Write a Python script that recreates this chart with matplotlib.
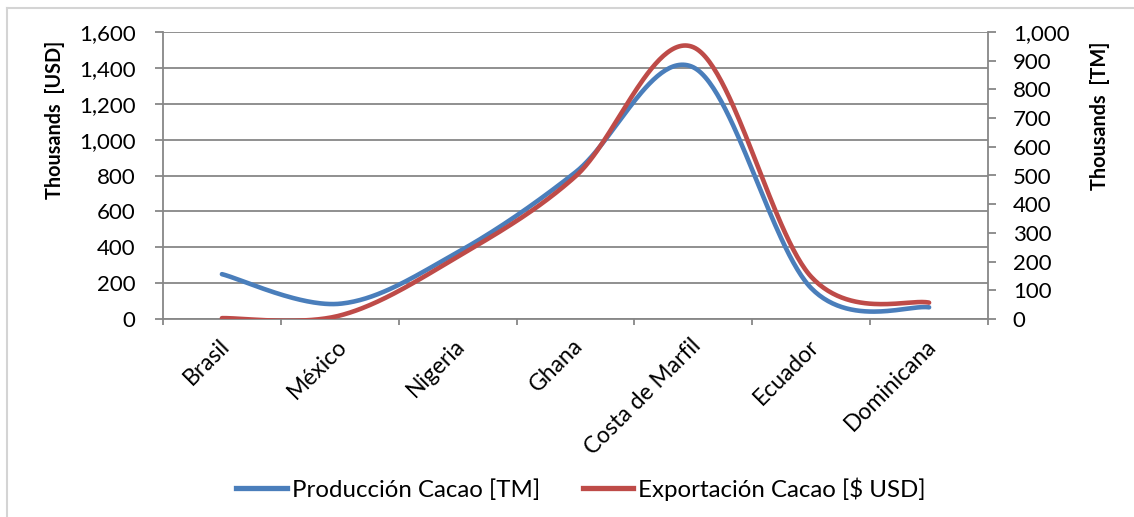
import numpy as np
import matplotlib
matplotlib.use("Agg")
import matplotlib.pyplot as plt
import matplotlib.transforms as mtransforms
from matplotlib.lines import Line2D
from matplotlib.ticker import FuncFormatter

plt.rcParams['font.family'] = ['Lato', 'DejaVu Sans']

# Datos por país (miles)
paises = ["Brasil", "México", "Nigeria", "Ghana", "Costa de Marfil", "Ecuador", "Dominicana"]
produccion_tm = [250, 85, 372, 818, 1403, 172, 65]     # eje izquierdo
exportacion_usd = [3, 12, 217, 497, 947, 147, 57]      # eje derecho

AZUL = "#4A7EBB"
ROJO = "#BE4B48"
GRIS = "#878787"


def suavizar(valores, n=60):
    """Curva Bezier cúbica que pasa por cada punto (estilo línea suavizada)."""
    y = np.asarray(valores, float)
    x = np.arange(len(y), dtype=float)
    P = np.column_stack([x, y])
    t = np.linspace(0, 1, n)[:, None]
    trozos = []
    for i in range(len(P) - 1):
        a = P[max(i - 1, 0)]
        b = P[i]
        c = P[i + 1]
        d = P[min(i + 2, len(P) - 1)]
        c1 = b + (c - a) / 6.0
        c2 = c - (d - b) / 6.0
        seg = (1 - t) ** 3 * b + 3 * (1 - t) ** 2 * t * c1 + 3 * (1 - t) * t ** 2 * c2 + t ** 3 * c
        trozos.append(seg if i == 0 else seg[1:])
    curva = np.vstack(trozos)
    return curva[:, 0], curva[:, 1]


W, H = 1134, 517
fig = plt.figure(figsize=(W / 100, H / 100), dpi=100)
fig.patch.set_facecolor("white")

# Borde del área del gráfico
fig.add_artist(Line2D([6.5 / W, 6.5 / W], [0, 1 - 7.5 / H], transform=fig.transFigure,
                      color="#d4d4d4", lw=1.5))
fig.add_artist(Line2D([6.5 / W, 1], [1 - 7.5 / H, 1 - 7.5 / H], transform=fig.transFigure,
                      color="#d4d4d4", lw=1.5))

x0, x1, ytop, ybot = 163, 988, 32, 319
ax = fig.add_axes([x0 / W, 1 - ybot / H, (x1 - x0) / W, (ybot - ytop) / H])
ax2 = ax.twinx()

xb, yb = suavizar(produccion_tm)
ax.plot(xb, yb, color=AZUL, lw=3.3, solid_capstyle="round", label="Producción Cacao [TM]")
xr, yr = suavizar(exportacion_usd)
ax2.plot(xr, yr, color=ROJO, lw=3.3, solid_capstyle="round", label="Exportación Cacao [$ USD]")

ax.set_xlim(-0.5, len(paises) - 0.5)
ax.set_ylim(0, 1600)
ax2.set_ylim(0, 1000)
ax.set_yticks(np.arange(0, 1601, 200))
ax2.set_yticks(np.arange(0, 1001, 100))
miles = FuncFormatter(lambda v, p: f"{int(v):,}")
ax.yaxis.set_major_formatter(miles)
ax2.yaxis.set_major_formatter(miles)

ax.set_xticks(np.arange(-0.5, len(paises), 1.0))
ax.set_xticklabels([])
ax.yaxis.grid(True, color=GRIS, lw=1.3)
ax.set_axisbelow(True)

for s in ["top", "right"]:
    ax.spines[s].set_visible(False)
for s in ["top", "left", "bottom"]:
    ax2.spines[s].set_visible(False)
for sp in [ax.spines["left"], ax.spines["bottom"], ax2.spines["right"]]:
    sp.set_color(GRIS)
    sp.set_linewidth(1.3)

ax.tick_params(axis="x", length=4.5, width=1.3, color=GRIS)
ax.tick_params(axis="y", length=5.8, width=1.3, color=GRIS, pad=14, labelsize=16)
ax2.tick_params(axis="y", length=5.8, width=1.3, color=GRIS, pad=12, labelsize=16)

# Títulos de ejes
ax.set_ylabel("Thousands  [USD]", fontsize=14.3, fontweight="bold")
ax.yaxis.set_label_coords((55 - x0) / (x1 - x0), (ybot - 120) / (ybot - ytop))
ax.yaxis.label.set_va("center")
ax2.set_ylabel("Thousands  [TM]", fontsize=14.3, fontweight="bold")
ax2.yaxis.set_label_coords((1100 - x0) / (x1 - x0), (ybot - 116) / (ybot - ytop))
ax2.yaxis.label.set_va("center")
ax2.yaxis.label.set_rotation(90)

# Etiquetas de categorías inclinadas
desplaza = mtransforms.ScaledTranslation(3 / 72, -17 / 72, fig.dpi_scale_trans)
for i, nombre in enumerate(paises):
    ax.text(i, 0, nombre, transform=ax.get_xaxis_transform() + desplaza,
            rotation=45, rotation_mode="anchor", ha="right", va="center", fontsize=16.5)

# Leyenda
manijas = [Line2D([], [], color=AZUL, lw=3.8), Line2D([], [], color=ROJO, lw=3.8)]
fig.legend(manijas, ["Producción Cacao [TM]", "Exportación Cacao [$ USD]"],
           loc="center", bbox_to_anchor=(0.5 + 14 / W, 1 - 489 / H), ncol=2, frameon=False,
           fontsize=17.3, handlelength=2.1, handletextpad=0.2, columnspacing=1.8)

fig.savefig("out.png", dpi=100)
